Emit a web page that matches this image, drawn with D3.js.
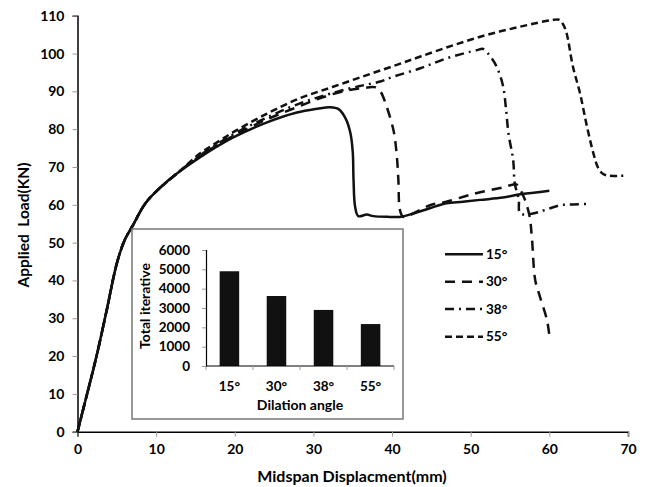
<!DOCTYPE html>
<html>
<head>
<meta charset="utf-8">
<script src="https://cdn.jsdelivr.net/npm/d3@7/dist/d3.min.js"></script>
<style>
  html, body { margin: 0; padding: 0; background: #fff; }
  svg { display: block; font-family: Lato, "Open Sans", sans-serif; }
  text { white-space: pre; }
</style>
</head>
<body>
<svg id="chart" width="648" height="487"></svg>
<script>
// Load–displacement curves for four dilation angles
const rise = [[0,0],[1,8.2],[2.4,19.8],[3.7,32],[5,44.5],[6,50.7],[7,54.4],[8.6,60.3],[10.5,64.5],[12.6,68.2]];

const curve15 = rise.concat([[15.6,72.6],[19.8,77.8],[24.1,81.8],[27.9,84.4],[30.5,85.4],[32.1,85.8],[33.2,85.3],[34.1,82.8],[34.7,79],[35,74],[35.1,66.6],[35.3,59.5],[35.7,57.0],[36.8,57.4],[37.6,57],[39.7,56.8],[41,56.8],[42.7,57.7],[44.8,59.1],[46.9,60.4],[49,60.8],[51.2,61.3],[54.1,61.9],[56.3,62.8],[58,63.2],[60,63.7]]);

const curve30 = rise.concat([[15.6,72.9],[19.8,78.2],[24.1,82.6],[27.9,85.8],[31,88.3],[34,90.1],[36.8,91],[37.8,91.1],[38.5,90],[39.3,86],[40.2,79.5],[40.6,73],[40.8,66.6],[41,58.6],[41.4,56.8],[42.2,57.2],[43.5,58.6],[45,60],[46.9,60.8],[49.5,62.4],[51.2,63.3],[54.1,64.6],[55.8,65.4],[56.3,64],[56.9,61.3],[57.5,56.8],[57.8,50.7],[58.2,40.1],[58.8,35.7],[59.7,29.5],[60,25.4]]);

const curve38 = rise.concat([[15.6,73.1],[19.8,78.6],[24.1,83.1],[28.3,86.8],[32.5,89.6],[35.9,91.4],[38.5,92.6],[40.2,93.9],[43.6,96.1],[46.9,98.7],[50.8,100.9],[51.6,101.2],[52.5,99.2],[53.3,96.5],[54.1,91.5],[54.5,85.1],[54.8,78.9],[55.4,71.8],[55.6,65.7],[56.1,61.5],[56.3,57.7],[57.9,57.7],[59.4,58.6],[61.4,59.9],[63,60.1],[65,60.2]]);

const curve55 = rise.concat([[15.6,73.6],[17.3,75.9],[19.8,79.2],[24.1,84.1],[28.3,88.2],[32.5,91.2],[36.8,94.3],[40.6,97],[43.6,99.2],[47.8,102.2],[52,104.9],[56.3,107.1],[60.5,108.9],[61.3,108.9],[61.8,107.5],[62.2,105.3],[63,96.5],[63.9,89.5],[64.7,81.5],[65.6,73.6],[66.2,69.8],[66.8,68.2],[67.5,67.7],[69.4,67.7]]);

const seriesNames = ["15°", "30°", "38°", "55°"];
const seriesDash = ["none", "10,7", "9,5,2,5", "7,4"];

const xTicks = [0,10,20,30,40,50,60,70];
const yTicks = [0,10,20,30,40,50,60,70,80,90,100,110];

// Inset bar chart: iteration counts per dilation angle
const angleLabels = ["15°", "30°", "38°", "55°"];
const iterations = [4900, 3620, 2900, 2170];
const iterTicks = [0,1000,2000,3000,4000,5000,6000];

const svg = d3.select("#chart");

const x = d3.scaleLinear().domain([0, 70]).range([77.5, 628]);
const y = d3.scaleLinear().domain([0, 110]).range([431.7, 15.7]);

// Axes
const xAxis = svg.append("g").attr("transform", `translate(0,${y(0)})`)
  .call(d3.axisBottom(x).tickValues(xTicks).tickSizeOuter(0).tickSize(5).tickPadding(7));
const yAxis = svg.append("g").attr("transform", `translate(${x(0)},0)`)
  .call(d3.axisLeft(y).tickValues(yTicks).tickSizeOuter(0).tickSize(5).tickPadding(8));
[xAxis, yAxis].forEach(g => {
  g.select(".domain").attr("stroke", "#000").attr("stroke-width", 1.5);
  g.selectAll(".tick line").attr("stroke", "#999").attr("stroke-width", 1);
  g.selectAll(".tick text").attr("font-size", 14).attr("font-weight", 700)
    .attr("font-family", "Lato, sans-serif").attr("fill", "#000");
});

svg.append("text").attr("x", 352).attr("y", 482).attr("text-anchor", "middle")
  .attr("font-size", 16).attr("font-weight", 700).attr("fill", "#000")
  .text("Midspan Displacment(mm)");
svg.append("text").attr("transform", "translate(29,225) rotate(-90)").attr("text-anchor", "middle")
  .attr("font-size", 15.5).attr("font-weight", 700).attr("fill", "#000")
  .text("Applied  Load(KN)");

// Curves
const line = d3.line().x(d => x(d[0])).y(d => y(d[1])).curve(d3.curveCatmullRom.alpha(0.5));
const allCurves = [curve15, curve30, curve38, curve55];
allCurves.forEach((c, i) => {
  svg.append("path").datum(c).attr("d", line)
    .attr("fill", "none").attr("stroke", "#111").attr("stroke-width", 2.5)
    .attr("stroke-linejoin", "round")
    .attr("stroke-dasharray", seriesDash[i]);
});

// Legend
const legendY = [254.3, 281.7, 309, 336.7];
seriesNames.forEach((name, i) => {
  svg.append("line").attr("x1", 445).attr("x2", 483).attr("y1", legendY[i]).attr("y2", legendY[i])
    .attr("stroke", "#111").attr("stroke-width", 2.5).attr("stroke-dasharray", seriesDash[i]);
  svg.append("text").attr("x", 486).attr("y", legendY[i] + 4.5)
    .attr("font-size", 13.5).attr("font-weight", 700).attr("fill", "#000").text(name);
});

// Inset panel
const inset = svg.append("g");
inset.append("rect").attr("x", 132).attr("y", 229).attr("width", 271).attr("height", 190)
  .attr("fill", "#fff").attr("stroke", "#777").attr("stroke-width", 1.5);

const bx = d3.scaleBand().domain(angleLabels).range([206, 394]).paddingInner(0.585).paddingOuter(0.29);
const by = d3.scaleLinear().domain([0, 6000]).range([366, 250]);

inset.selectAll("rect.bar").data(iterations).join("rect").attr("class", "bar")
  .attr("x", (d, i) => bx(angleLabels[i])).attr("width", bx.bandwidth())
  .attr("y", d => by(d)).attr("height", d => by(0) - by(d)).attr("fill", "#111");

const iy = inset.append("g").attr("transform", "translate(206,0)")
  .call(d3.axisLeft(by).tickValues(iterTicks).tickFormat(d3.format("d"))
    .tickSizeOuter(0).tickSize(4).tickPadding(12));
iy.select(".domain").attr("stroke", "#000").attr("stroke-width", 1.2);
iy.selectAll(".tick line").attr("stroke", "#999");
iy.selectAll(".tick text").attr("font-size", 13.5).attr("font-weight", 700)
  .attr("font-family", "Lato, sans-serif").attr("fill", "#000");

const ixg = inset.append("g").attr("transform", "translate(0,366)");
ixg.append("line").attr("x1", 206).attr("x2", 394).attr("stroke", "#000").attr("stroke-width", 1.2);
d3.range(5).forEach(k => {
  const px = 206 + k * (188 / 4);
  ixg.append("line").attr("x1", px).attr("x2", px).attr("y1", 0).attr("y2", 4)
    .attr("stroke", "#999");
});
angleLabels.forEach(a => {
  ixg.append("text").attr("x", bx(a) + bx.bandwidth() / 2).attr("y", 25)
    .attr("text-anchor", "middle").attr("font-size", 13.5).attr("font-weight", 700)
    .attr("fill", "#000").text(a);
});
inset.append("text").attr("x", 300).attr("y", 410).attr("text-anchor", "middle")
  .attr("font-size", 14).attr("font-weight", 700).attr("fill", "#000").text("Dilation angle");
inset.append("text").attr("transform", "translate(150,306) rotate(-90)").attr("text-anchor", "middle")
  .attr("font-size", 14).attr("font-weight", 700).attr("fill", "#000").text("Total iterative");
</script>
</body>
</html>
